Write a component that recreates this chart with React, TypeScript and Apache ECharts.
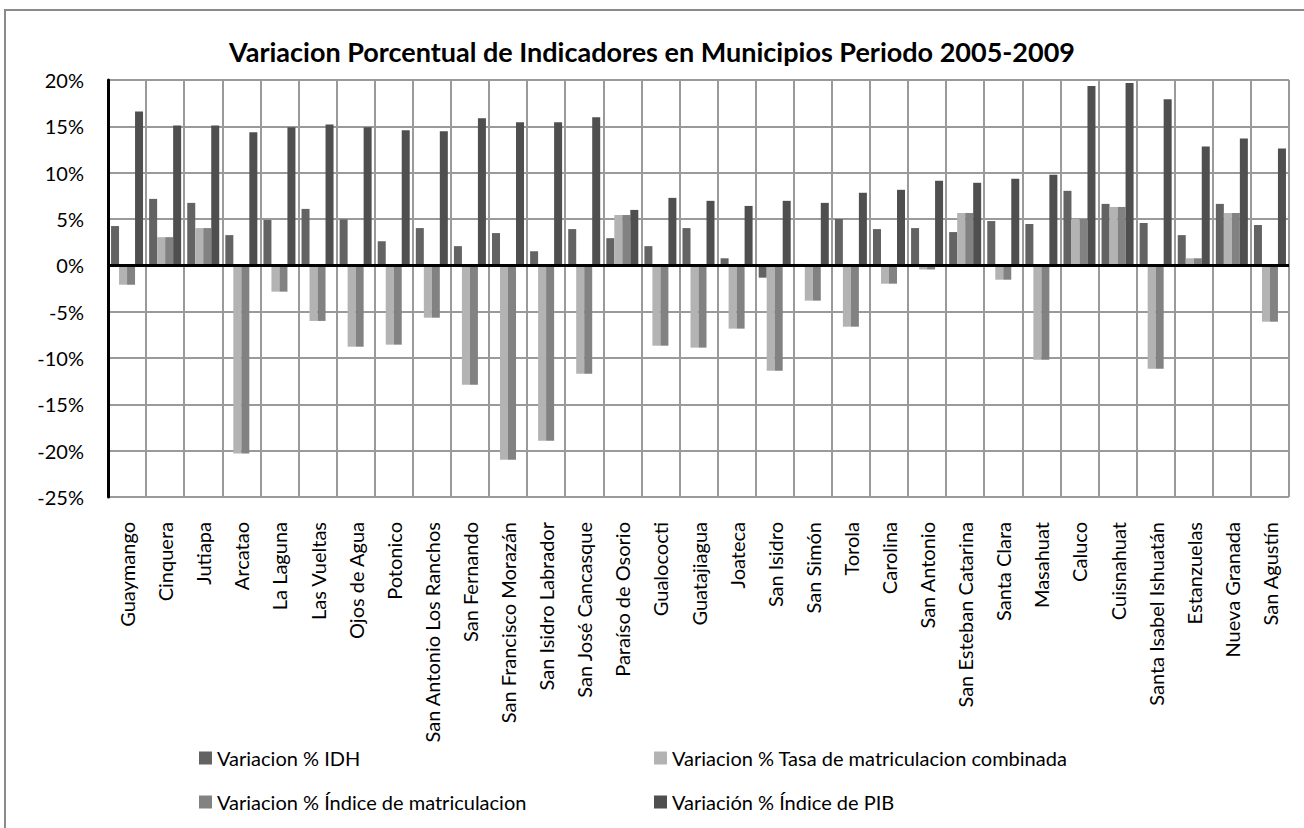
import React, { useEffect, useRef } from "react";
import * as echarts from "echarts";

const categories = [
  "Guaymango", "Cinquera", "Jutiapa", "Arcatao", "La Laguna", "Las Vueltas",
  "Ojos de Agua", "Potonico", "San Antonio Los Ranchos", "San Fernando",
  "San Francisco Morazán", "San Isidro Labrador", "San José Cancasque",
  "Paraíso de Osorio", "Gualococti", "Guatajiagua", "Joateca", "San Isidro",
  "San Simón", "Torola", "Carolina", "San Antonio", "San Esteban Catarina",
  "Santa Clara", "Masahuat", "Caluco", "Cuisnahuat", "Santa Isabel Ishuatán",
  "Estanzuelas", "Nueva Granada", "San Agustín",
];

const seriesNames = [
  "Variacion % IDH",
  "Variacion % Tasa de matriculacion combinada",
  "Variacion % Índice de matriculacion",
  "Variación % Índice de PIB",
];

const idh = [4.24, 7.17, 6.74, 3.26, 4.89, 6.09, 4.96, 2.6, 4.02, 2.07, 3.48, 1.52, 3.91, 2.93, 2.07, 4.02, 0.76, -1.33, 0.15, 5.0, 3.91, 4.02, 3.59, 4.78, 4.46, 8.04, 6.63, 4.57, 3.26, 6.63, 4.35];
const tasa = [-2.09, 3.04, 4.02, -20.3, -2.84, -6.0, -8.78, -8.56, -5.65, -12.88, -20.97, -18.92, -11.69, 5.43, -8.67, -8.88, -6.83, -11.37, -3.81, -6.62, -1.98, -0.45, 5.65, -1.55, -10.18, 5.0, 6.3, -11.15, 0.76, 5.65, -6.08];
const indiceMat = [-2.09, 3.04, 4.02, -20.3, -2.84, -6.0, -8.78, -8.56, -5.65, -12.88, -20.97, -18.92, -11.69, 5.43, -8.67, -8.88, -6.83, -11.37, -3.81, -6.62, -1.98, -0.45, 5.65, -1.55, -10.18, 5.0, 6.3, -11.15, 0.76, 5.65, -6.08];
const pib = [16.6, 15.1, 15.1, 14.35, 14.9, 15.2, 14.9, 14.57, 14.46, 15.87, 15.43, 15.43, 15.98, 5.98, 7.28, 6.96, 6.41, 6.96, 6.74, 7.83, 8.15, 9.13, 8.91, 9.35, 9.78, 19.35, 19.67, 17.93, 12.83, 13.7, 12.6];

const colors = ["#636363", "#b3b3b3", "#828282", "#4f4f4f"];
const FONT = "Lato";

export default function App() {
  const ref = useRef<HTMLDivElement>(null);

  useEffect(() => {
    if (!ref.current) return;
    const chart = echarts.init(ref.current, null, { renderer: "svg" });
    const values = [idh, tasa, indiceMat, pib];
    const legendPos = [
      { left: 194, top: 742 },
      { left: 649, top: 742 },
      { left: 194, top: 786 },
      { left: 649, top: 786 },
    ];
    chart.setOption({
      animation: false,
      backgroundColor: "#ffffff",
      textStyle: { fontFamily: FONT },
      title: {
        text: "Variacion Porcentual de Indicadores en Municipios Periodo 2005-2009",
        left: "center",
        top: 33,
        textStyle: { fontFamily: FONT, fontSize: 27, fontWeight: "bold", color: "#000" },
      },
      legend: seriesNames.map((n, i) => ({
        data: [n],
        left: legendPos[i].left,
        top: legendPos[i].top,
        icon: "rect",
        itemWidth: 13,
        itemHeight: 13,
        selectedMode: false,
        textStyle: { fontFamily: FONT, fontSize: 20, color: "#000", lineHeight: 22 },
      })),
      graphic: [
        {
          type: "rect",
          shape: { x: 5, y: 10, width: 1310, height: 830 },
          style: { fill: "none", stroke: "#8a8a8a", lineWidth: 2 },
          silent: true,
        },
      ],
      grid: { left: 108, right: 15, top: 80, bottom: 331, containLabel: false },
      xAxis: {
        type: "category",
        data: categories,
        axisLine: { show: false },
        axisTick: { show: false },
        splitLine: { show: true, interval: 0, lineStyle: { color: "#9a9a9a", width: 2 } },
        axisLabel: {
          interval: 0,
          rotate: 90,
          margin: 25,
          fontFamily: FONT,
          fontSize: 20,
          color: "#000",
        },
      },
      yAxis: {
        type: "value",
        min: -25,
        max: 20,
        interval: 5,
        axisLine: { show: true, lineStyle: { color: "#000", width: 3 } },
        axisTick: { show: false },
        splitLine: { show: true, lineStyle: { color: "#9a9a9a", width: 2 } },
        axisLabel: {
          formatter: (v: number) => `${v}%`,
          margin: 24,
          fontFamily: FONT,
          fontSize: 20,
          color: "#000",
        },
      },
      series: values.map((d, i) => ({
        name: seriesNames[i],
        type: "bar",
        data: d,
        barGap: "0%",
        barCategoryGap: "16%",
        itemStyle: { color: colors[i] },
        ...(i === 3
          ? {
              markLine: {
                silent: true,
                symbol: "none",
                label: { show: false },
                lineStyle: { color: "#000", width: 3, type: "solid" },
                data: [{ yAxis: 0 }],
              },
            }
          : {}),
      })),
    });
    return () => chart.dispose();
  }, []);

  return (
    <div
      ref={ref}
      style={{ position: "fixed", left: 0, top: 0, width: 1304, height: 828 }}
    />
  );
}
